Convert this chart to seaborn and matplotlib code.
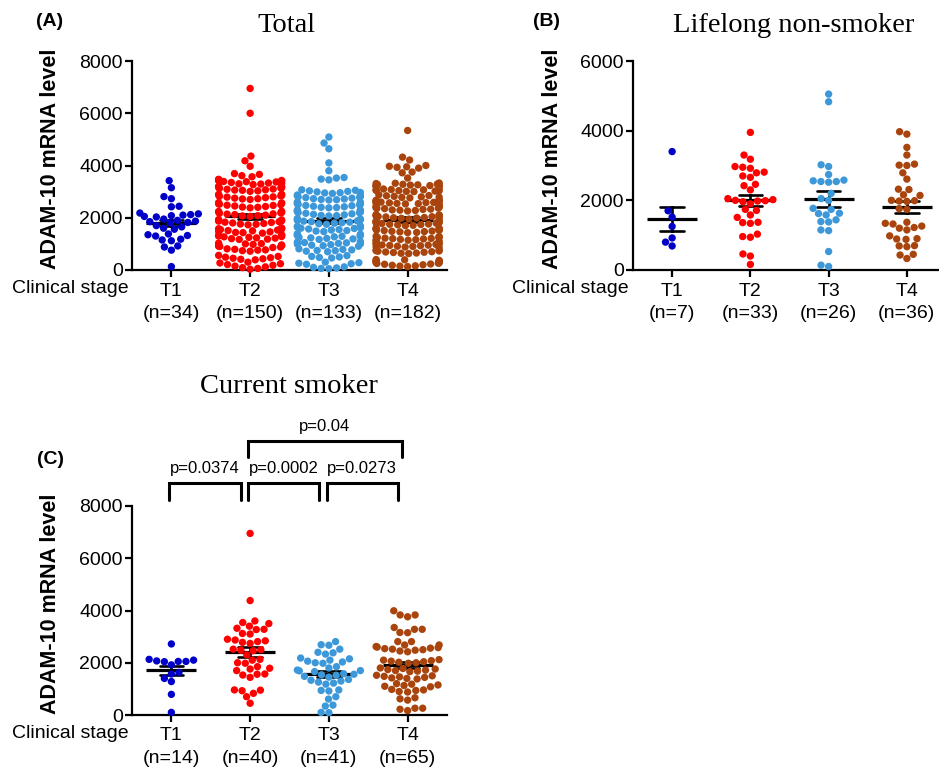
import numpy as np
import pandas as pd
import matplotlib
matplotlib.use("Agg")
import matplotlib.pyplot as plt
import seaborn as sns

# stages and colours
STAGES = ["T1", "T2", "T3", "T4"]
COLORS = ["#0000c8", "#ff0000", "#3d98d9", "#a8440c"]

N_TOTAL = [34, 150, 133, 182]
N_NONSMOKER = [7, 33, 26, 36]
N_SMOKER = [14, 40, 41, 65]

# (A) Total
TOTAL_T1 = [3420, 3150, 2810, 2730, 2440, 2420, 2180, 2150, 2120, 2100, 2080, 2050,
            2030, 1950, 1900, 1870, 1850, 1820, 1800, 1700, 1650, 1600, 1560, 1380,
            1350, 1320, 1300, 1180, 1150, 1120, 920, 880, 760, 130]
TOTAL_T2 = [6950, 6000, 4360, 4180, 3970,
            3690, 3660, 3610, 3570,
            3470, 3460, 3450, 3430, 3420, 3400, 3390, 3380, 3370, 3350, 3330, 3310, 3300, 3290, 3270,
            3200, 3190, 3180, 3170, 3150, 3140, 3120, 3100, 3090, 3070, 3060, 3050, 3030, 3010,
            2900, 2890, 2870, 2850, 2840, 2820, 2800, 2790, 2770, 2750, 2730, 2720, 2700,
            2580, 2570, 2550, 2530, 2520, 2500, 2480, 2470, 2450, 2430, 2410, 2400, 2380,
            2250, 2240, 2220, 2200, 2190, 2170, 2150, 2140, 2120, 2100, 2080, 2070, 2050,
            1930, 1920, 1900, 1880, 1870, 1850, 1830, 1820, 1800, 1780, 1760, 1750, 1730,
            1610, 1600, 1580, 1560, 1550, 1530, 1510, 1500, 1480, 1460, 1440, 1430, 1410,
            1350, 1330, 1320, 1300, 1280, 1270, 1250, 1230, 1220, 1200, 1180, 1170,
            1030, 1010, 1000, 980, 960, 950, 930, 910, 900, 880, 860,
            810, 790, 770, 760, 740, 720,
            560, 520, 490, 470, 450, 430, 410, 390,
            300, 270, 240, 210, 180, 150, 120, 90, 60, 30]
TOTAL_T3 = [5090, 4860, 4640, 4100,
            3800, 3540, 3520, 3480, 3450,
            3070, 3050, 3030, 3010, 2990, 2970, 2960, 2950, 2930,
            2870, 2860, 2840, 2810, 2800, 2780, 2770, 2750, 2730, 2720, 2700, 2690, 2680,
            2600, 2590, 2570, 2550, 2540, 2520, 2510, 2490, 2470, 2460, 2440, 2420, 2400, 2390, 2380,
            2300, 2290, 2270, 2250, 2240, 2220, 2200, 2190, 2170, 2150, 2130, 2110, 2090, 2080, 2070,
            1970, 1950, 1930, 1920, 1900, 1880, 1870, 1850, 1830, 1810, 1790, 1770, 1750,
            1690, 1670, 1650, 1640, 1620, 1600, 1590, 1570, 1550, 1530, 1510, 1490, 1470,
            1390, 1370, 1350, 1340, 1320, 1300, 1290, 1270, 1250, 1230, 1210, 1190, 1170,
            1090, 1070, 1050, 1040, 1020, 1000, 990, 970, 950, 930, 910,
            810, 790, 770, 750, 740, 720, 700,
            550, 520, 500, 480, 460,
            300, 280, 260, 240, 220,
            120, 100, 80, 60, 50]
TOTAL_T4 = [5340, 4320, 4210,
            4000, 3970, 3950, 3930, 3900,
            3750, 3720,
            3520,
            3330, 3320, 3310, 3300, 3290, 3280, 3270, 3260, 3250, 3240, 3230, 3220, 3210, 3200, 3190,
            3100, 3090, 3080, 3070, 3060, 3050, 3040, 3030, 3020, 3010, 3000,
            2880, 2850, 2840, 2820, 2800, 2790, 2780, 2760,
            2680, 2670, 2660, 2650, 2640, 2620, 2610, 2600, 2590, 2580, 2570, 2560, 2550, 2540, 2530, 2510, 2500,
            2440, 2420, 2410, 2400, 2380, 2370, 2360, 2350, 2330, 2320, 2300, 2290, 2280, 2260,
            2120, 2110, 2100, 2080, 2070, 2060, 2050, 2040, 2030, 2010, 2000, 1990, 1980, 1960, 1950,
            1880, 1870, 1850, 1840, 1830, 1810, 1800, 1790, 1780, 1760, 1750, 1740, 1730, 1710, 1700,
            1610, 1600, 1580, 1570, 1560, 1540, 1530, 1520, 1510, 1490, 1480, 1470, 1460, 1440, 1430,
            1290, 1280, 1260, 1250, 1240, 1220, 1210, 1200, 1190, 1170, 1160, 1150, 1140, 1120, 1110,
            1030, 1020, 1000, 990, 980, 960, 950, 940, 930, 910, 900, 890, 880, 860,
            770, 760, 740, 730, 720, 700, 690, 680, 670, 650, 640, 630,
            400, 390, 370, 360, 350, 330, 320, 310, 300, 280, 270, 260, 250, 230,
            220, 200, 180, 160, 150, 130]

# (B) Lifelong non-smoker
NONSMOKER_T1 = [3400, 1700, 1520, 1250, 920, 800, 690]
NONSMOKER_T2 = [3950, 3300, 3180, 2970, 2950, 2920, 2810, 2790, 2700, 2660, 2460, 2420,
                2300, 2050, 2020, 2000, 1990, 1980, 1960, 1900, 1740, 1710, 1580, 1510,
                1370, 1360, 1340, 1030, 960, 940, 460, 400, 160]
NONSMOKER_T3 = [5050, 4830, 3020, 2970, 2740, 2580, 2560, 2540, 2540, 2520, 2200, 2050,
                2000, 1770, 1740, 1630, 1620, 1580, 1440, 1390, 1380, 1150, 1130, 530, 140, 100]
NONSMOKER_T4 = [3970, 3900, 3520, 3300, 3040, 3010, 3000, 2790, 2610, 2320, 2310, 2160,
                2140, 2000, 1990, 1980, 1970, 1760, 1740, 1370, 1340, 1320, 1260, 1220,
                1200, 1150, 980, 900, 890, 880, 700, 690, 670, 450, 430, 330]

# (C) Current smoker
SMOKER_T1 = [2720, 2130, 2100, 2070, 2050, 2050, 2040, 1920, 1630, 1570, 1400, 1280, 790, 100]
SMOKER_T2 = [6950, 4380, 3600, 3540, 3500, 3400, 3320, 3280, 3270, 3120, 3100, 2900, 2870,
             2840, 2810, 2780, 2740, 2520, 2500, 2480, 2460, 2300, 2130, 2100, 2000, 1980,
             1850, 1790, 1760, 1700, 1570, 1560, 1530, 1440, 960, 950, 930, 830, 700, 450]
SMOKER_T3 = [2810, 2690, 2670, 2520, 2400, 2380, 2330, 2180, 2150, 2100, 2060, 2030, 2000,
             1980, 1850, 1800, 1720, 1700, 1690, 1660, 1580, 1560, 1540, 1520, 1480, 1450,
             1360, 1330, 1300, 1260, 1220, 1180, 960, 940, 920, 700, 610, 380, 340, 100, 90]
SMOKER_T4 = [3990, 3830, 3830, 3760, 3350, 3280, 3280, 3160, 3150, 2810, 2810, 2680, 2680,
             2620, 2600, 2580, 2560, 2540, 2520, 2500, 2480, 2450, 2420,
             2120, 2100, 2080, 2060, 2040, 2020, 2000, 1980,
             1800, 1780, 1760, 1740, 1720, 1700, 1680, 1660,
             1520, 1500, 1480, 1460, 1440, 1420, 1400, 1380,
             1200, 1180, 1150, 1130, 1100, 1080,
             980, 960, 940, 900, 880, 660, 620, 570, 260, 260, 220, 170]

SMOKER_PAIRS = [(0, 1), (1, 2), (2, 3), (1, 3)]
SMOKER_P = ["p=0.0374", "p=0.0002", "p=0.0273", "p=0.04"]

W, H = 939, 769

sns.set_theme(style="ticks")
plt.rcParams["font.family"] = ["Liberation Sans", "DejaVu Sans"]
for key in ["text.color", "axes.labelcolor", "xtick.color", "ytick.color", "axes.edgecolor"]:
    plt.rcParams[key] = "black"


def long_frame(groups):
    rows = []
    for stage, vals in zip(STAGES, groups):
        rows += [(stage, v) for v in vals]
    return pd.DataFrame(rows, columns=["stage", "level"])


def px_axes(fig, left, top, right, bottom):
    return fig.add_axes([left / W, 1 - bottom / H, (right - left) / W, (bottom - top) / H])


def draw_panel(ax, df, n_list, ymax):
    sns.swarmplot(data=df, x="stage", y="level", hue="stage", order=STAGES,
                  hue_order=STAGES, palette=COLORS, size=5.3, linewidth=0,
                  legend=False, ax=ax)
    for c in ax.collections:
        c.set_clip_on(False)
    sns.pointplot(data=df, x="stage", y="level", order=STAGES, errorbar="se",
                  color="black", marker="_", markersize=36, markeredgewidth=2.3,
                  linestyle="none", capsize=0.3, err_kws={"linewidth": 1.9}, ax=ax)
    ax.set_xlim(-0.5, 3.5)
    ax.set_ylim(0, ymax)
    ax.set_yticks(np.arange(0, ymax + 1, 2000))
    ax.set_xticks(range(len(STAGES)))
    ax.set_xticklabels([f"{s}\n(n={n})" for s, n in zip(STAGES, n_list)], linespacing=1.4)
    ax.set_xlabel("")
    ax.set_ylabel("ADAM-10 mRNA level", fontsize=15.5, fontweight="bold")
    ax.yaxis.set_label_coords(-0.225, 0.53)
    sns.despine(ax=ax)
    for side in ["left", "bottom"]:
        ax.spines[side].set_linewidth(1.6)
    ax.tick_params(axis="both", length=5, width=1.6, labelsize=14, color="black")
    ax.tick_params(axis="y", pad=1.5)
    ax.tick_params(axis="x", pad=4)


fig = plt.figure(figsize=(W / 100, H / 100), dpi=100)

ax_a = px_axes(fig, 132, 61, 447, 270)
draw_panel(ax_a, long_frame([TOTAL_T1, TOTAL_T2, TOTAL_T3, TOTAL_T4]), N_TOTAL, 8000)

ax_b = px_axes(fig, 633, 61, 946, 270)
draw_panel(ax_b, long_frame([NONSMOKER_T1, NONSMOKER_T2, NONSMOKER_T3, NONSMOKER_T4]),
           N_NONSMOKER, 6000)

ax_c = px_axes(fig, 132, 506, 447, 715)
draw_panel(ax_c, long_frame([SMOKER_T1, SMOKER_T2, SMOKER_T3, SMOKER_T4]), N_SMOKER, 8000)

# significance brackets for current smokers
for (i, j), label in zip(SMOKER_PAIRS, SMOKER_P):
    wide = (j - i) > 1
    top = 10490 if wide else 8880
    leg = 9880 if wide else 8230
    x0, x1 = i - 0.03, j - (0.07 if wide else 0.12)
    ax_c.plot([x0, x0, x1, x1], [leg, top, top, leg], color="black", lw=2.2,
              clip_on=False, solid_joinstyle="miter")
    ax_c.text((x0 + x1) / 2, top + 560, label, ha="center", va="center", fontsize=12)

# titles and panel letters
serif = ["Liberation Serif", "DejaVu Serif"]
fig.text(286 / W, 1 - 32 / H, "Total", ha="center", va="baseline", fontsize=20.5, family=serif)
fig.text(794 / W, 1 - 32 / H, "Lifelong non-smoker", ha="center", va="baseline",
         fontsize=20.5, family=serif)
fig.text(289 / W, 1 - 393 / H, "Current smoker", ha="center", va="baseline",
         fontsize=20.5, family=serif)

for x, y, lab in [(50, 21, "(A)"), (547, 21, "(B)"), (50, 459, "(C)")]:
    fig.text(x / W, 1 - y / H, lab, ha="center", va="center", fontsize=14, fontweight="bold")

for x, y in [(12, 289), (512, 289), (12, 734)]:
    fig.text(x / W, 1 - y / H, "Clinical stage", ha="left", va="center", fontsize=14)

fig.savefig("out.png", dpi=100, facecolor="white")
